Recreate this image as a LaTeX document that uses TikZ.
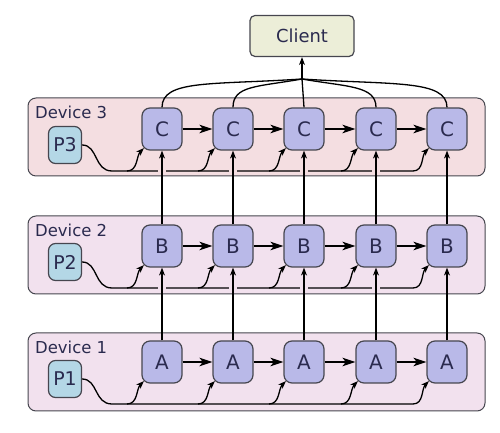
\documentclass[tikz,border=0pt]{standalone}
\usepackage{fontspec}
\setmainfont{DejaVu Sans}
\usetikzlibrary{arrows.meta, positioning, calc}

\definecolor{devpinka}{HTML}{F4DEE1}
\definecolor{devpinkb}{HTML}{F2E1EE}
\definecolor{stagefill}{HTML}{B9B9E8}
\definecolor{partfill}{HTML}{B4D7E6}
\definecolor{clientfill}{HTML}{ECEED8}
\definecolor{edgegray}{HTML}{46464F}
\definecolor{inkblue}{HTML}{2A2A4E}

\begin{document}
\begin{tikzpicture}[x=1bp, y=1bp,
  device/.style={draw=edgegray, line width=1bp, rounded corners=8bp},
  devlabel/.style={anchor=west, inner sep=0pt, text=inkblue, font=\fontsize{16.5}{18}\selectfont},
  stage/.style={draw=edgegray, fill=stagefill, line width=1.2bp, rounded corners=8bp,
    minimum width=40bp, minimum height=42bp, inner sep=0pt, text=inkblue,
    font=\fontsize{20}{22}\selectfont},
  part/.style={draw=edgegray, fill=partfill, line width=1.2bp, rounded corners=7bp,
    minimum width=33bp, minimum height=37bp, inner sep=0pt, text=inkblue,
    font=\fontsize{19}{21}\selectfont},
  feed/.style={line width=1.3bp, -{Stealth[length=8bp,width=6bp]}},
  pass/.style={line width=1.6bp, -{Stealth[length=13bp,width=8.5bp,inset=3.5bp]}},
  gather/.style={line width=1.3bp}
]

\useasboundingbox (0,0) rectangle (500,433);

% Devices
\draw[device, fill=devpinkb] (28,22) rectangle (485,100);
\draw[device, fill=devpinkb] (28,139) rectangle (485,217);
\draw[device, fill=devpinka] (28,257) rectangle (485,335);
\node[devlabel] (dev1) at (35,86) {Device 1};
\node[devlabel] (dev2) at (35,203) {Device 2};
\node[devlabel] (dev3) at (35,321) {Device 3};

% Stages
\foreach \i/\x in {1/162,2/233,3/304,4/376,5/447} {
  \node[stage] (A\i) at (\x,71) {A};
  \node[stage] (B\i) at (\x,187) {B};
  \node[stage] (C\i) at (\x,304) {C};
}

% Partitions and client
\node[part] (P1) at (65,54) {P1};
\node[part] (P2) at (65,171) {P2};
\node[part] (P3) at (65,288) {P3};
\node[draw=edgegray, fill=clientfill, line width=1.2bp, rounded corners=5bp,
  minimum width=104bp, minimum height=41bp, text=inkblue,
  font=\fontsize{18}{20}\selectfont] (client) at (302,397) {Client};

% Partition feeds
\foreach \r/\p/\b in {A/P1/29, B/P2/145, C/P3/262} {
  \draw[feed] (\p.east) .. controls +(16,0) and (94,\b) .. (112,\b)
    -- (413,\b) to[out=0,in=225] ($(\r5.south west)+(2.5,2.5)$);
  \foreach \i/\x in {1/162,2/233,3/304,4/376}
    \draw[feed] (\x-35,\b) to[out=0,in=225] ($(\r\i.south west)+(2.5,2.5)$);
}

% Crossings
\foreach \x in {162,233,304,376,447} {
  \fill[devpinkb] (\x-4,142.5) rectangle (\x+4,147.5);
  \fill[devpinka] (\x-4,259.5) rectangle (\x+4,264.5);
}

% Forward passes
\foreach \r in {A,B,C}
  \foreach \i/\j in {1/2,2/3,3/4,4/5}
    \draw[pass] (\r\i.east) -- (\r\j.west);
\foreach \i in {1,...,5} {
  \draw[feed] (A\i.north) -- (B\i.south);
  \draw[feed] (B\i.north) -- (C\i.south);
}

% Outputs to client
\coordinate (hub) at (302,354);
\draw[gather] (C1.north) .. controls +(0,28) and +(-90,-6) .. (hub);
\draw[gather] (C2.north) .. controls +(0,22) and +(-45,-8) .. (hub);
\draw[gather] (C3.north) -- (hub);
\draw[gather] (C4.north) .. controls +(0,22) and +(45,-8) .. (hub);
\draw[gather] (C5.north) .. controls +(0,28) and +(90,-6) .. (hub);
\draw[feed] (hub) -- (client.south);

\end{tikzpicture}
\end{document}
